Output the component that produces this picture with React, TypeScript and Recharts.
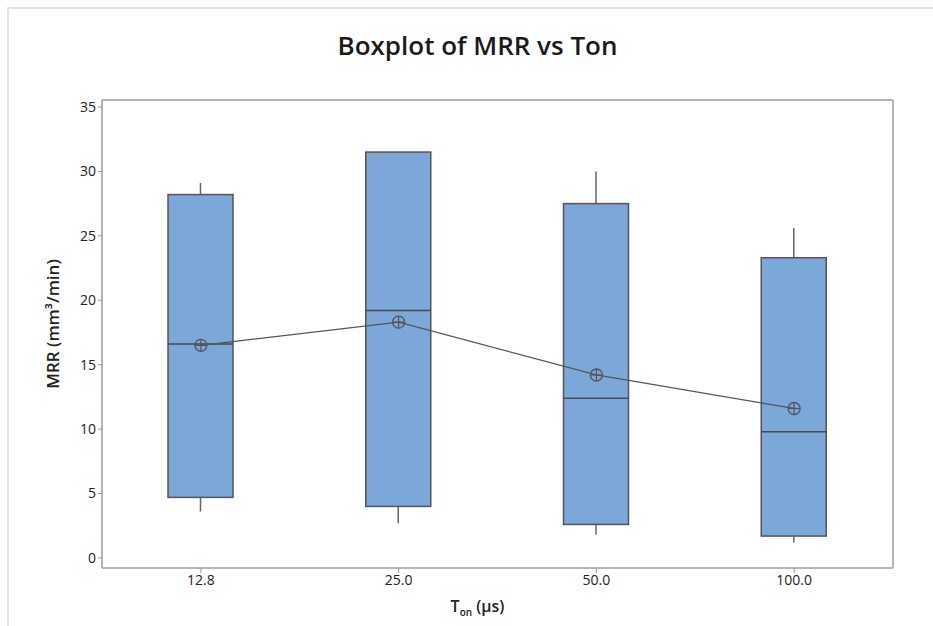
import React from "react";
import {
  Bar,
  ComposedChart,
  Line,
  XAxis,
  YAxis,
} from "recharts";

// Boxplot summary per T_on level
const categories = ["12.8", "25.0", "50.0", "100.0"];
const whiskerLow = [3.6, 2.7, 1.8, 1.2];
const q1 = [4.7, 4.0, 2.6, 1.7];
const median = [16.6, 19.2, 12.4, 9.8];
const q3 = [28.2, 31.5, 27.5, 23.3];
const whiskerHigh = [29.1, 31.5, 30.0, 25.6];
const means = [16.5, 18.3, 14.2, 11.6];
const yTicks = [0, 5, 10, 15, 20, 25, 30, 35];
const yDomain = [-0.78, 35.54];

const data = categories.map((ton, i) => ({
  ton,
  low: whiskerLow[i],
  q1: q1[i],
  median: median[i],
  q3: q3[i],
  high: whiskerHigh[i],
  mean: means[i],
}));

const FONT = "'Open Sans', 'Noto Sans', sans-serif";
const BOX_FILL = "#7ba7d9";
const EDGE = "#555555";
const FRAME = "#b5b5b5";

type BoxProps = {
  x?: number;
  y?: number;
  width?: number;
  height?: number;
  payload?: (typeof data)[number];
};

// The bar spans whisker low..high; the rest is placed on the same linear scale
function BoxShape(props: BoxProps) {
  const { x = 0, y = 0, width = 0, height = 0, payload } = props;
  if (!payload) return null;
  const top = Math.min(y, y + height);
  const bottom = Math.max(y, y + height);
  const span = payload.high - payload.low || 1;
  const py = (v: number) => top + ((bottom - top) * (payload.high - v)) / span;
  const cx = x + width / 2;
  return (
    <g>
      <line x1={cx} x2={cx} y1={py(payload.high)} y2={py(payload.q3)} stroke="#666" strokeWidth={1.5} />
      <line x1={cx} x2={cx} y1={py(payload.q1)} y2={py(payload.low)} stroke="#666" strokeWidth={1.5} />
      <rect
        x={x}
        y={py(payload.q3)}
        width={width}
        height={py(payload.q1) - py(payload.q3)}
        fill={BOX_FILL}
        stroke={EDGE}
        strokeWidth={1.5}
      />
      <line x1={x} x2={x + width} y1={py(payload.median)} y2={py(payload.median)} stroke="#4a4a4a" strokeWidth={1.5} />
    </g>
  );
}

function MeanDot(props: { cx?: number; cy?: number; index?: number }) {
  const { cx, cy, index } = props;
  if (cx == null || cy == null) return <g key={index} />;
  const r = 6;
  return (
    <g key={index}>
      <circle cx={cx} cy={cy} r={r} fill="none" stroke={EDGE} strokeWidth={1.3} />
      <line x1={cx - r} x2={cx + r} y1={cy} y2={cy} stroke={EDGE} strokeWidth={1.2} />
      <line x1={cx} x2={cx} y1={cy - r} y2={cy + r} stroke={EDGE} strokeWidth={1.2} />
    </g>
  );
}

function XLabel(props: { viewBox?: { x: number; y: number; width: number; height: number } }) {
  const vb = props.viewBox ?? { x: 0, y: 0, width: 0, height: 0 };
  return (
    <text
      x={vb.x + vb.width / 2 - 20}
      y={vb.y + 44}
      textAnchor="middle"
      fontFamily={FONT}
      fontSize={16}
      fontWeight={600}
      fill="#222"
    >
      T
      <tspan fontSize={10} dy={4}>on</tspan>
      <tspan dy={-4}> (µs)</tspan>
    </text>
  );
}

export default function App() {
  return (
    <div
      style={{
        position: "absolute",
        left: 0,
        top: 0,
        width: 933,
        height: 626,
        background: "#fff",
        overflow: "hidden",
      }}
    >
      <div
        style={{
          position: "absolute",
          left: 7,
          top: 7,
          width: 960,
          height: 660,
          borderTop: "2px solid #e4e4e4",
          borderLeft: "2px solid #e4e4e4",
        }}
      />
      <div
        style={{
          position: "absolute",
          left: 0,
          top: 27,
          width: 955,
          textAlign: "center",
          fontFamily: FONT,
          fontWeight: 600,
          fontSize: 26,
          color: "#1a1a1a",
        }}
      >
        Boxplot of MRR vs Ton
      </div>
      <ComposedChart
        width={933}
        height={626}
        data={data}
        margin={{ top: 99, right: 39, bottom: 28, left: 42 }}
        style={{ position: "absolute", left: 0, top: 0 }}
      >
        <XAxis
          dataKey="ton"
          height={30}
          stroke={FRAME}
          strokeWidth={2}
          tickSize={5}
          tick={{ fill: "#222", fontSize: 14, fontFamily: FONT }}
          tickLine={{ stroke: "#999", strokeWidth: 1 }}
          label={<XLabel />}
        />
        <XAxis
          xAxisId="frame"
          dataKey="ton"
          orientation="top"
          height={1}
          tick={false}
          tickLine={false}
          stroke={FRAME}
          strokeWidth={2}
        />
        <YAxis
          domain={yDomain}
          ticks={yTicks}
          width={60}
          stroke={FRAME}
          strokeWidth={2}
          tickSize={4}
          tick={{ fill: "#222", fontSize: 14, fontFamily: FONT }}
          tickLine={{ stroke: "#999", strokeWidth: 1 }}
          label={{
            value: "MRR (mm³/min)",
            angle: -90,
            position: "insideLeft",
            dx: 6,
            dy: -10,
            style: { textAnchor: "middle", fontFamily: FONT, fontSize: 17, fontWeight: 600, fill: "#222" },
          }}
        />
        <YAxis
          yAxisId="frame"
          orientation="right"
          domain={yDomain}
          ticks={yTicks}
          width={1}
          tick={false}
          tickLine={false}
          stroke={FRAME}
          strokeWidth={2}
        />
        <Bar
          dataKey={(d: (typeof data)[number]) => [d.low, d.high]}
          barSize={65}
          shape={(p: BoxProps) => <BoxShape {...p} />}
          isAnimationActive={false}
        />
        <Line
          xAxisId="frame"
          yAxisId="frame"
          dataKey="mean"
          stroke="#555"
          strokeWidth={1.3}
          dot={(p: { cx?: number; cy?: number; index?: number }) => <MeanDot {...p} />}
          activeDot={false}
          isAnimationActive={false}
        />
      </ComposedChart>
    </div>
  );
}
